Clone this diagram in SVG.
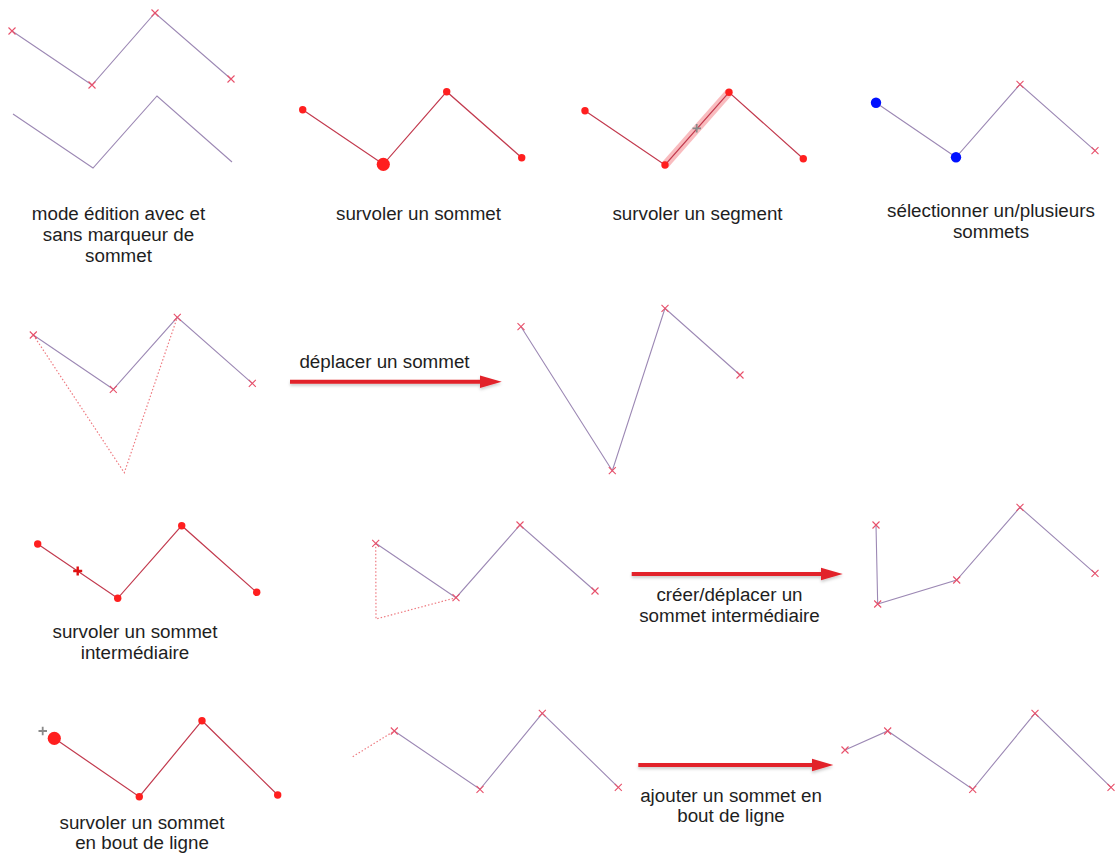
<svg xmlns="http://www.w3.org/2000/svg" xmlns:xlink="http://www.w3.org/1999/xlink" width="1117" height="855" viewBox="0 0 1117 855">
<style>
.ln{fill:none;stroke:#9c88b4;stroke-width:1.1}
.rl{fill:none;stroke:#c23a4e;stroke-width:1.2}
.dt{fill:none;stroke:#ee7a80;stroke-width:1.2;stroke-dasharray:1.5 2}
.rd{fill:#ff1f1f}
.bd{fill:#0010ff}
.xm{fill:none;stroke:#e8506a;stroke-width:1.1}
.lab{font-family:"Liberation Sans",Arial,sans-serif;font-size:18.8px;fill:#1e1e1e;text-anchor:middle}
.arr{stroke:#e2222a;stroke-width:4;fill:none}
.ah{fill:#e2222a}
</style>
<defs>
<path id="x" class="xm" d="M-3.5,-3.5L3.5,3.5M-3.5,3.5L3.5,-3.5"/>
<filter id="sh" x="-10%" y="-100%" width="120%" height="300%">
<feDropShadow dx="0" dy="2" stdDeviation="1.5" flood-color="#000" flood-opacity="0.2"/>
</filter>
</defs>
<rect width="1117" height="855" fill="#fff"/>

<g id="p1">
<polyline class="ln" points="12,31 92,85 155,13 231,79"/>
<use xlink:href="#x" x="12" y="31"/><use xlink:href="#x" x="92" y="85"/><use xlink:href="#x" x="155" y="13"/><use xlink:href="#x" x="231" y="79"/>
<polyline class="ln" points="13,114 93,168 157,96 232,162"/>
<text class="lab" x="118.5" y="220">mode édition avec et</text>
<text class="lab" x="118.5" y="241">sans marqueur de</text>
<text class="lab" x="118.5" y="262">sommet</text>
</g>

<g id="p2">
<polyline class="rl" points="302.7,109.7 383.3,164.3 446.7,91.7 521.7,157.7"/>
<circle class="rd" cx="302.7" cy="109.7" r="3.7"/><circle class="rd" cx="383.3" cy="164.3" r="6.6"/><circle class="rd" cx="446.7" cy="91.7" r="3.7"/><circle class="rd" cx="521.7" cy="157.7" r="3.7"/>
<text class="lab" x="418.5" y="220">survoler un sommet</text>
</g>

<g id="p3">
<line x1="665" y1="165" x2="729" y2="92.3" stroke="#f26a72" stroke-opacity="0.45" stroke-width="8"/>
<polyline class="rl" points="585,110.7 665,165 729,92.3 803.3,158.7"/>
<circle class="rd" cx="585" cy="110.7" r="3.7"/><circle class="rd" cx="665" cy="165" r="3.7"/><circle class="rd" cx="729" cy="92.3" r="3.7"/><circle class="rd" cx="803.3" cy="158.7" r="3.7"/>
<path d="M692.5,128.3H701M696.7,124V132.6" stroke="#8a8a8a" stroke-width="1.8" fill="none"/>
<text class="lab" x="697.5" y="220">survoler un segment</text>
</g>

<g id="p4">
<polyline class="ln" points="876,102.7 956,157.3 1020,84.3 1095,150.7"/>
<circle class="bd" cx="876" cy="102.7" r="5.2"/><circle class="bd" cx="956" cy="157.3" r="5.2"/>
<use xlink:href="#x" x="1020" y="84.3"/><use xlink:href="#x" x="1095" y="150.7"/>
<text class="lab" x="991" y="217">sélectionner un/plusieurs</text>
<text class="lab" x="991" y="238">sommets</text>
</g>

<g id="p5">
<polyline class="dt" points="33.3,335 124.3,472.7 177.3,317.3"/>
<polyline class="ln" points="33.3,335 113.3,389.3 177.3,317.3 252.3,383.3"/>
<use xlink:href="#x" x="33.3" y="335"/><use xlink:href="#x" x="113.3" y="389.3"/><use xlink:href="#x" x="177.3" y="317.3"/><use xlink:href="#x" x="252.3" y="383.3"/>
</g>

<g id="p6">
<polyline class="ln" points="521,326.7 612.3,470.7 665,308.3 740,375"/>
<use xlink:href="#x" x="521" y="326.7"/><use xlink:href="#x" x="612.3" y="470.7"/><use xlink:href="#x" x="665" y="308.3"/><use xlink:href="#x" x="740" y="375"/>
</g>

<g id="p7">
<polyline class="rl" points="37.7,544 117.7,598.3 181.7,525.7 256.7,592.3"/>
<circle class="rd" cx="37.7" cy="544" r="3.7"/><circle class="rd" cx="117.7" cy="598.3" r="3.7"/><circle class="rd" cx="181.7" cy="525.7" r="3.7"/><circle class="rd" cx="256.7" cy="592.3" r="3.7"/>
<path d="M73.2,571H82.2M77.7,566.5V575.5" stroke="#e01010" stroke-width="2.4" fill="none"/>
<text class="lab" x="135" y="637.5">survoler un sommet</text>
<text class="lab" x="135" y="658.5">intermédiaire</text>
</g>

<g id="p8">
<polyline class="dt" points="375.7,543.3 376,619 456,597.7"/>
<polyline class="ln" points="375.7,543.3 456,597.7 520,525 595,591"/>
<use xlink:href="#x" x="375.7" y="543.3"/><use xlink:href="#x" x="456" y="597.7"/><use xlink:href="#x" x="520" y="525"/><use xlink:href="#x" x="595" y="591"/>
</g>

<g id="p9">
<polyline class="ln" points="876,525 877.7,604 956.7,580 1020,507.3 1095,573.3"/>
<use xlink:href="#x" x="876" y="525"/><use xlink:href="#x" x="877.7" y="604"/><use xlink:href="#x" x="956.7" y="580"/><use xlink:href="#x" x="1020" y="507.3"/><use xlink:href="#x" x="1095" y="573.3"/>
</g>

<g id="p10">
<polyline class="rl" points="54.3,738.3 139.3,796.7 202,720.7 277.7,795"/>
<circle class="rd" cx="54.3" cy="738.3" r="6.6"/><circle class="rd" cx="139.3" cy="796.7" r="3.7"/><circle class="rd" cx="202" cy="720.7" r="3.7"/><circle class="rd" cx="277.7" cy="795" r="3.7"/>
<path d="M38.5,731H47M42.7,726.7V735.3" stroke="#8a8a8a" stroke-width="1.8" fill="none"/>
<text class="lab" x="142" y="828.5">survoler un sommet</text>
<text class="lab" x="142" y="849">en bout de ligne</text>
</g>

<g id="p11">
<line class="dt" x1="352.7" y1="756.7" x2="394.3" y2="731"/>
<polyline class="ln" points="394.3,731 480,789.3 542.3,713.3 618.3,787.3"/>
<use xlink:href="#x" x="394.3" y="731"/><use xlink:href="#x" x="480" y="789.3"/><use xlink:href="#x" x="542.3" y="713.3"/><use xlink:href="#x" x="618.3" y="787.3"/>
</g>

<g id="p12">
<polyline class="ln" points="845,750 887.7,731 972.7,789.3 1035,713.3 1111,787.3"/>
<use xlink:href="#x" x="845" y="750"/><use xlink:href="#x" x="887.7" y="731"/><use xlink:href="#x" x="972.7" y="789.3"/><use xlink:href="#x" x="1035" y="713.3"/><use xlink:href="#x" x="1111" y="787.3"/>
</g>

<g id="connectors">
<g id="a1" filter="url(#sh)">
<line class="arr" x1="290" y1="381.7" x2="482" y2="381.7"/>
<polygon class="ah" points="480,375.5 501.7,381.7 480,387.9"/>
</g>
<g id="a2" filter="url(#sh)">
<line class="arr" x1="631.7" y1="574" x2="823" y2="574"/>
<polygon class="ah" points="821,567.8 842.7,574 821,580.2"/>
</g>
<g id="a3" filter="url(#sh)">
<line class="arr" x1="638.3" y1="765" x2="814" y2="765"/>
<polygon class="ah" points="812,758.8 833.3,765 812,771.2"/>
</g>
<text class="lab" x="384.5" y="367.7">déplacer un sommet</text>
<text class="lab" x="729.5" y="601">créer/déplacer un</text>
<text class="lab" x="729.5" y="621.5">sommet intermédiaire</text>
<text class="lab" x="731" y="802">ajouter un sommet en</text>
<text class="lab" x="731" y="821.5">bout de ligne</text>
</g>
</svg>
